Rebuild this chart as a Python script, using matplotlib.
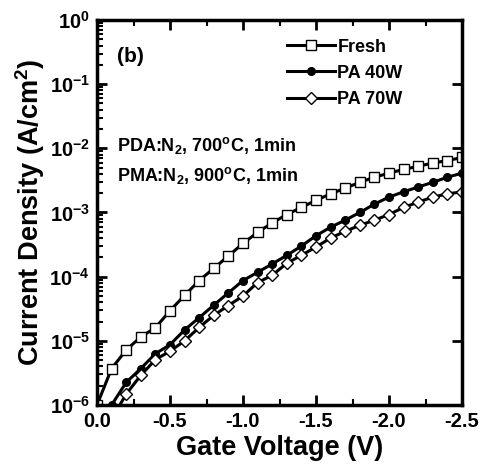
import matplotlib
matplotlib.use("Agg")
import matplotlib.pyplot as plt
from matplotlib.ticker import FixedLocator, FixedFormatter, LogLocator, NullFormatter

plt.rcParams['font.family'] = ['Liberation Sans', 'DejaVu Sans']
plt.rcParams['font.weight'] = 'bold'
plt.rcParams['mathtext.fontset'] = 'custom'
plt.rcParams['mathtext.rm'] = 'Liberation Sans:bold'
plt.rcParams['mathtext.bf'] = 'Liberation Sans:bold'
plt.rcParams['mathtext.it'] = 'Liberation Sans:bold:italic'
plt.rcParams['axes.unicode_minus'] = False

voltage = [0.0, -0.1, -0.2, -0.3, -0.4, -0.5, -0.6, -0.7, -0.8, -0.9, -1.0,
           -1.1, -1.2, -1.3, -1.4, -1.5, -1.6, -1.7, -1.8, -1.9, -2.0,
           -2.1, -2.2, -2.3, -2.4, -2.5]
fresh = [1.0e-6, 3.7e-6, 7.2e-6, 1.15e-5, 1.6e-5, 2.95e-5, 5.1e-5, 8.7e-5, 1.35e-4,
         2.1e-4, 3.3e-4, 4.9e-4, 6.9e-4, 9.3e-4, 1.2e-3, 1.55e-3, 1.95e-3, 2.4e-3,
         2.95e-3, 3.55e-3, 4.1e-3, 4.7e-3, 5.25e-3, 5.9e-3, 6.45e-3, 7.2e-3]
pa40 = [4.0e-7, 1.0e-6, 2.25e-6, 3.7e-6, 6.3e-6, 8.7e-6, 1.48e-5, 2.3e-5, 3.6e-5,
        5.6e-5, 8.7e-5, 1.17e-4, 1.58e-4, 2.15e-4, 3.0e-4, 4.35e-4, 5.9e-4, 7.6e-4,
        1.0e-3, 1.35e-3, 1.74e-3, 2.1e-3, 2.5e-3, 2.95e-3, 3.55e-3, 4.1e-3]
pa70 = [2.0e-7, 6.0e-7, 1.48e-6, 2.9e-6, 5.1e-6, 6.9e-6, 1.0e-5, 1.62e-5, 2.5e-5,
        3.55e-5, 5.0e-5, 8.1e-5, 1.05e-4, 1.62e-4, 2.15e-4, 2.9e-4, 4.0e-4, 5.1e-4,
        6.3e-4, 7.6e-4, 9.3e-4, 1.2e-3, 1.45e-3, 1.74e-3, 1.95e-3, 2.1e-3]
series_labels = ['Fresh', 'PA 40W', 'PA 70W']
x_ticks = [0.0, -0.5, -1.0, -1.5, -2.0, -2.5]
x_ticklabels = ['0.0', '-0.5', '-1.0', '-1.5', '-2.0', '-2.5']
y_ticks = [1e-6, 1e-5, 1e-4, 1e-3, 1e-2, 1e-1, 1e0]
y_ticklabels = [r'$10^{-6}$', r'$10^{-5}$', r'$10^{-4}$', r'$10^{-3}$',
                r'$10^{-2}$', r'$10^{-1}$', r'$10^{0}$']

fig = plt.figure(figsize=(4.88, 4.73), dpi=100)
ax = fig.add_axes([97/488, 1-405/473, (462-97)/488, (405-20)/473])

lw = 2.2
ax.plot(voltage, fresh, '-', color='black', lw=lw, marker='s', ms=6.5,
        mfc='white', mec='black', mew=1.0, label=series_labels[0])
ax.plot(voltage, pa40, '-', color='black', lw=lw, marker='o', ms=5.5,
        mfc='black', mec='black', mew=1.0, label=series_labels[1])
ax.plot(voltage, pa70, '-', color='black', lw=lw, marker='D', ms=6,
        mfc='white', mec='black', mew=1.0, label=series_labels[2])

ax.set_yscale('log')
ax.set_xlim(0.0, -2.5)
ax.set_ylim(1e-6, 1e0)

ax.xaxis.set_major_locator(FixedLocator(x_ticks))
ax.xaxis.set_major_formatter(FixedFormatter(x_ticklabels))
ax.xaxis.set_minor_locator(FixedLocator([-0.25, -0.75, -1.25, -1.75, -2.25]))
ax.yaxis.set_major_locator(FixedLocator(y_ticks))
ax.yaxis.set_major_formatter(FixedFormatter(y_ticklabels))
ax.yaxis.set_minor_locator(LogLocator(base=10, subs=range(2, 10), numticks=20))
ax.yaxis.set_minor_formatter(NullFormatter())

ax.tick_params(which='major', direction='in', length=7, width=2,
               top=True, right=True, labelsize=14.5, pad=5)
ax.tick_params(which='minor', direction='in', length=4, width=1.5,
               top=True, right=False)
for s in ax.spines.values():
    s.set_linewidth(2.5)
for lab in ax.get_xticklabels() + ax.get_yticklabels():
    lab.set_fontweight('bold')

ax.set_xlabel('Gate Voltage (V)', fontsize=19.5, fontweight='bold', labelpad=3)
ax.set_ylabel(r'Current Density (A/cm$^2$)', fontsize=19.5, fontweight='bold', labelpad=2)

leg = ax.legend(loc='upper left', bbox_to_anchor=(0.50, 0.97), frameon=False,
                handlelength=2.7, handletextpad=0.1, labelspacing=0.5,
                borderaxespad=0.0, prop={'weight': 'bold', 'size': 13})

ax.text(0.055, 0.905, '(b)', transform=ax.transAxes, fontsize=15,
        fontweight='bold', va='center', ha='left')
ax.text(0.055, 0.675, r'PDA:N$_2$, 700$^{\rm o}$C, 1min', transform=ax.transAxes,
        fontsize=13, fontweight='bold', va='center', ha='left')
ax.text(0.055, 0.597, r'PMA:N$_2$, 900$^{\rm o}$C, 1min', transform=ax.transAxes,
        fontsize=13, fontweight='bold', va='center', ha='left')

fig.savefig('out.png', dpi=100)
